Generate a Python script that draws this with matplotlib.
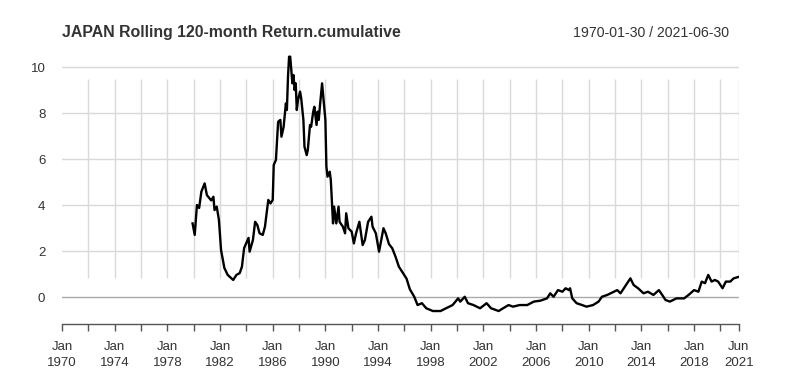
import pandas as pd
import matplotlib
matplotlib.use('Agg')
import matplotlib.pyplot as plt
import matplotlib.dates as mdates

plt.rcParams['font.family'] = ['Liberation Sans', 'DejaVu Sans']

# month end of each reading, rolling 120-month cumulative return
months = ['1979-12', '1980-02', '1980-04', '1980-06', '1980-08', '1980-11', '1981-01',
          '1981-05', '1981-07', '1981-08', '1981-10', '1981-12', '1982-02', '1982-05',
          '1982-08', '1983-01', '1983-04', '1983-07', '1983-09', '1983-11', '1984-03',
          '1984-04', '1984-07', '1984-09', '1984-11', '1985-01', '1985-04', '1985-06',
          '1985-09', '1985-11', '1986-01', '1986-02', '1986-04', '1986-06', '1986-08',
          '1986-09', '1986-11', '1987-01', '1987-02', '1987-03', '1987-04', '1987-05',
          '1987-07', '1987-08', '1987-09', '1987-10', '1987-11', '1987-12', '1988-02',
          '1988-03', '1988-05', '1988-06', '1988-08', '1988-09', '1988-11', '1988-12',
          '1989-02', '1989-03', '1989-05', '1989-06', '1989-07', '1989-08', '1989-10',
          '1989-11', '1990-01', '1990-02', '1990-03', '1990-05', '1990-06', '1990-08',
          '1990-09', '1990-11', '1991-01', '1991-02', '1991-05', '1991-07', '1991-08',
          '1991-10', '1992-01', '1992-03', '1992-05', '1992-08', '1992-11', '1993-01',
          '1993-04', '1993-07', '1993-08', '1993-11', '1994-02', '1994-04', '1994-06',
          '1994-08', '1994-11', '1995-02', '1995-05', '1995-08', '1995-11', '1996-03',
          '1996-06', '1996-09', '1996-10', '1997-01', '1997-05', '1997-09', '1998-03',
          '1998-10', '1999-03', '1999-09', '2000-02', '2000-04', '2000-08', '2000-11',
          '2001-04', '2001-10', '2002-04', '2002-08', '2003-03', '2003-07', '2003-12',
          '2004-04', '2004-10', '2005-05', '2005-11', '2006-05', '2006-11', '2007-02',
          '2007-05', '2007-09', '2008-01', '2008-04', '2008-07', '2008-08', '2008-10',
          '2009-02', '2009-07', '2009-11', '2010-05', '2010-10', '2011-01', '2011-06',
          '2011-12', '2012-03', '2012-06', '2012-10', '2013-03', '2013-06', '2013-10',
          '2014-03', '2014-07', '2014-12', '2015-05', '2015-08', '2015-11', '2016-03',
          '2016-09', '2017-04', '2017-08', '2018-01', '2018-05', '2018-08', '2018-11',
          '2019-02', '2019-05', '2019-08', '2019-11', '2020-03', '2020-06', '2020-10',
          '2021-01', '2021-06']
values = [3.2, 2.7, 4.0, 3.87, 4.58, 4.94, 4.43,
          4.2, 4.36, 3.78, 3.93, 3.35, 2.04, 1.26,
          0.96, 0.74, 0.96, 1.04, 1.32, 2.13, 2.57,
          1.97, 2.48, 3.27, 3.13, 2.77, 2.7, 3.06,
          4.22, 4.07, 4.22, 5.74, 5.96, 7.62, 7.7,
          6.97, 7.4, 8.42, 8.13, 9.58, 10.45, 10.45,
          9.29, 9.65, 9.0, 9.29, 8.13, 8.56, 8.93,
          8.64, 7.7, 6.53, 6.17, 6.39, 7.48, 7.4,
          8.06, 8.27, 7.48, 8.06, 7.7, 8.27, 9.29,
          8.78, 7.7, 5.67, 5.23, 5.45, 5.09, 3.2,
          3.93, 3.2, 3.93, 3.27, 3.06, 2.77, 3.64,
          2.99, 2.84, 2.33, 2.77, 3.27, 2.26, 2.48,
          3.27, 3.49, 3.06, 2.77, 1.97, 2.48, 2.99,
          2.77, 2.3, 2.12, 1.75, 1.32, 1.1, 0.8,
          0.34, 0.09, 0.01, -0.35, -0.27, -0.49, -0.61,
          -0.61, -0.49, -0.35, -0.06, -0.2, 0.01, -0.27,
          -0.35, -0.49, -0.27, -0.49, -0.61, -0.49, -0.35,
          -0.42, -0.35, -0.35, -0.2, -0.16, -0.06, 0.16,
          0.01, 0.3, 0.23, 0.38, 0.3, 0.38, -0.06,
          -0.27, -0.35, -0.42, -0.35, -0.2, 0.01, 0.09,
          0.23, 0.3, 0.16, 0.45, 0.81, 0.52, 0.38,
          0.16, 0.23, 0.09, 0.3, 0.09, -0.13, -0.2,
          -0.06, -0.06, 0.09, 0.3, 0.23, 0.67, 0.6,
          0.96, 0.67, 0.74, 0.67, 0.38, 0.67, 0.67,
          0.81, 0.88]

y_ticks = [0, 2, 4, 6, 8, 10]
tick_years = list(range(1970, 2021, 2))
label_years = list(range(1970, 2019, 4))

dates = pd.to_datetime(months) + pd.offsets.MonthEnd(0)
start = pd.Timestamp('1970-01-30')
end = pd.Timestamp('2021-06-30')

text_col = '#333333'
grid_col = '#d9d9d9'

fig = plt.figure(figsize=(8, 3.76), dpi=100)
ax = fig.add_axes([62 / 800, 52 / 376, 677 / 800, 274 / 376])

# horizontal grid
for v in y_ticks:
    ax.axhline(v, color='#aaaaaa' if v == 0 else grid_col, lw=1.0, zorder=1)

# x ticks (first obs of each January) and vertical grid
tick_pos = [start] + [pd.Timestamp(f'{y}-01-31') for y in tick_years[1:]] + [end]
ax.vlines(tick_pos[1:], 0.83, 9.48, color=grid_col, lw=1.0, zorder=1)

ax.plot(dates, values, color='black', lw=1.7, zorder=3)

ax.set_xlim(start, end)
ax.set_ylim(-1.174, 10.74)

for s in ['top', 'right', 'left']:
    ax.spines[s].set_visible(False)
ax.spines['bottom'].set_color('#555555')
ax.spines['bottom'].set_linewidth(1.0)

ax.set_xticks(tick_pos)
labels = []
for p in tick_pos:
    if p == end:
        labels.append('Jun\n2021')
    elif p.year in label_years:
        labels.append(f'Jan\n{p.year}')
    else:
        labels.append('')
ax.set_xticklabels(labels, fontsize=9.5, color=text_col, linespacing=1.5)
ax.tick_params(axis='x', direction='out', length=5, width=1.0, color='#555555', pad=7)

ax.set_yticks(y_ticks)
ax.set_yticklabels([str(v) for v in y_ticks], fontsize=9.5, color=text_col)
ax.tick_params(axis='y', length=0, pad=12)

fig.text(62 / 800, 1 - 33 / 376, 'JAPAN Rolling 120-month Return.cumulative',
         fontsize=11.4, fontweight='bold', color=text_col, va='center', ha='left')
fig.text(729 / 800, 1 - 33 / 376, '1970-01-30 / 2021-06-30',
         fontsize=10.2, color=text_col, va='center', ha='right')

fig.savefig('out.png', dpi=100)
